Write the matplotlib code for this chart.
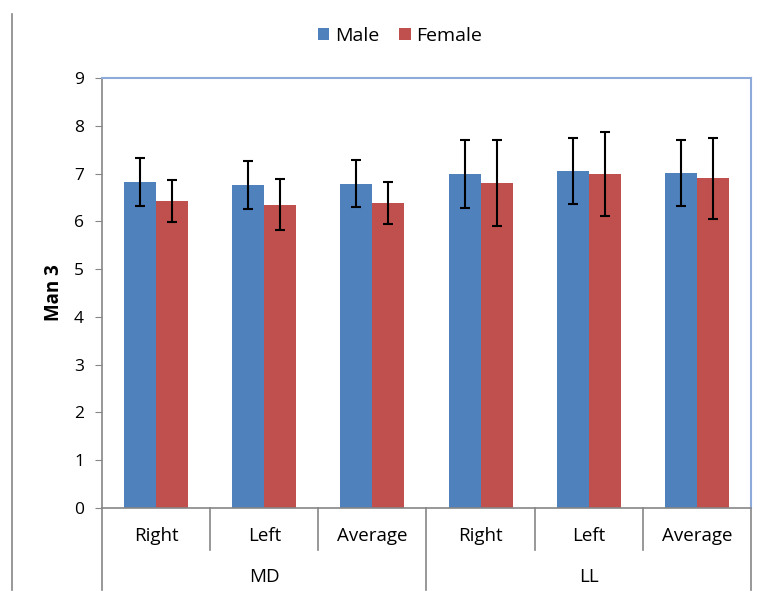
import numpy as np
import matplotlib.pyplot as plt
from matplotlib.lines import Line2D
import matplotlib.transforms as mtransforms

plt.rcParams['font.family'] = ['Open Sans', 'DejaVu Sans']

sides = ["Right", "Left", "Average", "Right", "Left", "Average"]
groups = ["MD", "LL"]
male = [6.83, 6.76, 6.79, 6.99, 7.05, 7.02]
male_err = [0.50, 0.51, 0.49, 0.71, 0.69, 0.69]
female = [6.42, 6.35, 6.39, 6.81, 6.99, 6.90]
female_err = [0.44, 0.53, 0.44, 0.90, 0.87, 0.85]


def main():
    fig = plt.figure(figsize=(7.65, 5.97), dpi=100)
    ax = fig.add_axes([102 / 765, 1 - 508 / 597, 649 / 765, 430 / 597])

    x = np.arange(len(sides))
    w = 0.296
    ekw = dict(ecolor='black', elinewidth=1.5, capsize=3.8, capthick=1.5)
    ax.bar(x - w / 2, male, w, yerr=male_err, color='#4F81BD', label='Male', error_kw=ekw, zorder=2)
    ax.bar(x + w / 2, female, w, yerr=female_err, color='#C0504D', label='Female', error_kw=ekw, zorder=2)

    ax.set_xlim(-0.5, len(sides) - 0.5)
    ax.set_ylim(0, 9)
    ax.set_yticks(range(10))
    ax.set_xticks([])
    ax.tick_params(axis='y', labelsize=12.5, length=5, color='#868686', pad=8)

    for s in ['top', 'right']:
        ax.spines[s].set_color('#8EAADB')
        ax.spines[s].set_linewidth(1.5)
    for s in ['left', 'bottom']:
        ax.spines[s].set_color('#868686')
        ax.spines[s].set_linewidth(1.2)

    ax.set_ylabel('Man 3', fontsize=13.5, fontweight='bold', labelpad=7)

    # multi-level category axis
    trans = mtransforms.blended_transform_factory(ax.transData, ax.transAxes)
    px = 1 / 430
    for b in np.arange(-0.5, len(sides), 1):
        if b in (-0.5, 2.5, len(sides) - 0.5):
            y0 = -82 * px
        else:
            y0 = -42 * px
        ax.add_line(Line2D([b, b], [0, y0], transform=trans, color='#868686', lw=1.2, clip_on=False))
    for i, s in enumerate(sides):
        ax.text(i, -28 * px, s, transform=trans, ha='center', va='center', fontsize=13.5)
    for j, g in enumerate(groups):
        ax.text(1 + 3 * j, -69 * px, g, transform=trans, ha='center', va='center', fontsize=13.5)

    fig.add_artist(Line2D([12 / 765, 12 / 765], [1 - 14 / 597, 1 - 590 / 597], color='#868686', lw=1.2))

    fig.legend(loc='center', bbox_to_anchor=(400 / 765, 1 - 36 / 597), ncol=2, frameon=False,
               fontsize=14, handlelength=0.6, handleheight=0.6, handletextpad=0.3, columnspacing=1.0)

    fig.savefig('out.png', dpi=100)


if __name__ == "__main__":
    main()
